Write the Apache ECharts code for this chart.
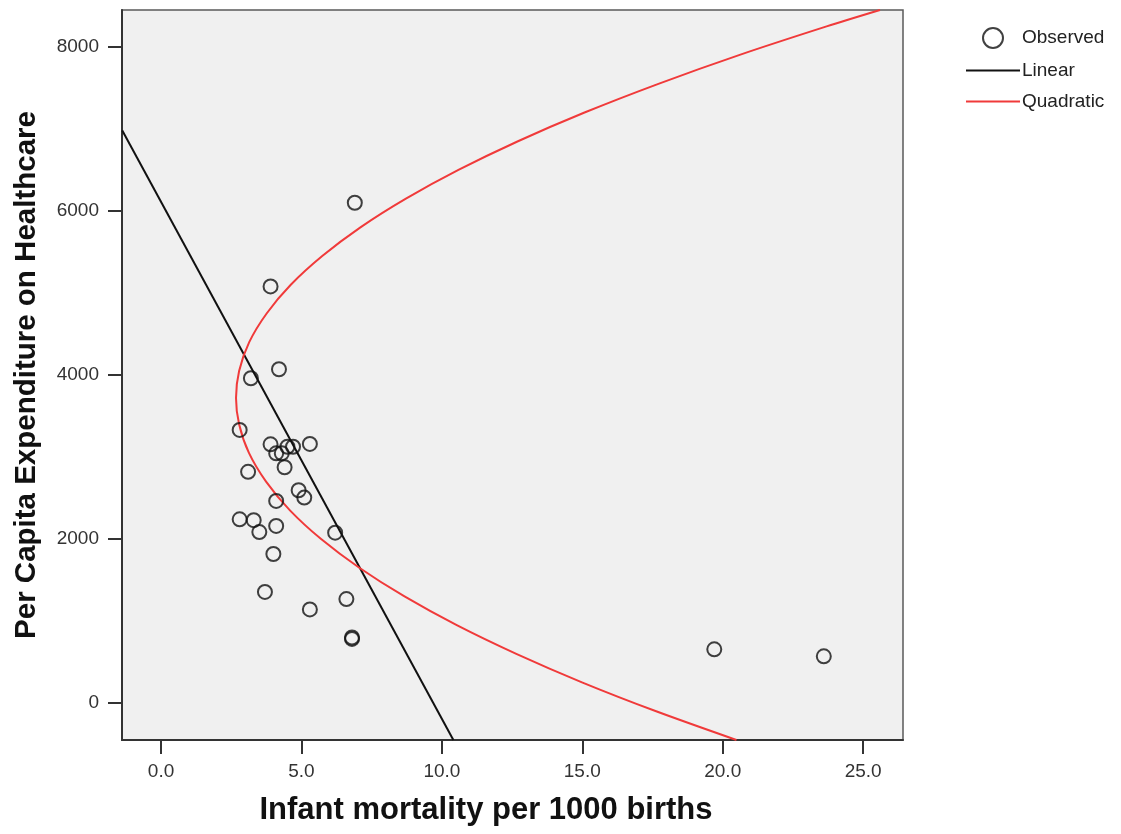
<!DOCTYPE html>
<html>
<head>
<meta charset="utf-8">
<script src="https://cdn.jsdelivr.net/npm/echarts@6/dist/echarts.min.js"></script>
<style>
  html, body { margin: 0; padding: 0; background: #ffffff; }
  #chart { width: 1121px; height: 834px; }
</style>
</head>
<body>
<div id="chart"></div>
<script>
// Observed cases: infant mortality (per 1000 births) vs per capita healthcare spending
const mortality = [
  3.2, 4.2, 3.9, 6.9, 2.8, 3.9, 4.1, 4.3, 4.5, 4.7,
  5.3, 4.4, 3.1, 4.9, 5.1, 4.1, 2.8, 3.3, 3.5, 4.1,
  6.2, 4.0, 3.7, 6.6, 5.3, 6.8, 6.8, 19.7, 23.6
];
const expenditure = [
  3960, 4070, 5080, 6100, 3330, 3155, 3045, 3045, 3125, 3125,
  3160, 2875, 2820, 2595, 2505, 2465, 2240, 2230, 2085, 2160,
  2078, 1818, 1355, 1268, 1142, 800, 782, 656, 570
];

// Linear fit line, end points
const linearMortality = [-1.38, 10.41];
const linearExpenditure = [6980, -450];

// Quadratic fit curve, traced along its length
const quadMortality = [
  20.49, 17.63, 15.01, 12.65, 10.53, 8.67, 7.06, 5.70, 4.59, 3.74, 3.13, 2.78, 2.67,
  2.78, 3.14, 3.76, 4.62, 5.74, 7.10, 8.72, 10.59, 12.71, 15.08, 17.71, 20.58, 23.70, 25.60
];
const quadExpenditure = [
  -450, -100, 250, 600, 950, 1300, 1650, 2000, 2350, 2700, 3050, 3400, 3720,
  4050, 4400, 4750, 5100, 5450, 5800, 6150, 6500, 6850, 7200, 7550, 7900, 8250, 8450
];

// Tick positions
const xTicks = [0, 5, 10, 15, 20, 25];
const yTicks = [0, 2000, 4000, 6000, 8000];

const zip = (xs, ys) => xs.map((x, i) => [x, ys[i]]);

const FONT = '"Liberation Sans", Arial, sans-serif';
const INK = '#111111';
const RED = '#f03a3a';
const LINE_ICON = 'path://M0,0 L54,0 L54,2 L0,2 Z';

const chart = echarts.init(document.getElementById('chart'), null, { renderer: 'canvas' });

chart.setOption({
  animation: false,
  backgroundColor: '#ffffff',
  textStyle: { fontFamily: FONT },
  grid: {
    left: 122, right: 218, top: 10, bottom: 94,
    show: true,
    backgroundColor: '#f0f0f0',
    borderColor: '#5a5a5a',
    borderWidth: 1.5
  },
  legend: {
    orient: 'vertical',
    left: 966,
    top: 27,
    padding: 0,
    itemWidth: 54,
    itemHeight: 20,
    itemGap: 12,
    textStyle: { fontFamily: FONT, fontSize: 19, color: '#222222', padding: [0, 0, 0, -3] },
    data: [
      { name: 'Observed', icon: 'circle',
        itemStyle: { color: 'rgba(0,0,0,0)', borderColor: INK, borderWidth: 2 } },
      { name: 'Linear', icon: LINE_ICON, itemStyle: { color: INK } },
      { name: 'Quadratic', icon: LINE_ICON, itemStyle: { color: RED } }
    ]
  },
  xAxis: {
    type: 'value',
    min: -1.39,
    max: 26.42,
    name: 'Infant mortality per 1000 births',
    nameLocation: 'middle',
    nameGap: 55,
    nameTextStyle: {
      fontFamily: FONT, fontSize: 31, fontWeight: 'bold', color: '#111111',
      padding: [0, 53, 0, 0]
    },
    axisLine: { show: true, onZero: false, lineStyle: { color: '#333333', width: 2 } },
    axisTick: {
      show: true, inside: false, length: 14, customValues: xTicks,
      lineStyle: { color: '#333333', width: 2 }
    },
    axisLabel: {
      show: true, margin: 22, customValues: xTicks,
      fontFamily: FONT, fontSize: 19, color: '#333333',
      formatter: v => v.toFixed(1)
    },
    splitLine: { show: false }
  },
  yAxis: {
    type: 'value',
    min: -450,
    max: 8450,
    name: 'Per Capita Expenditure on Healthcare',
    nameLocation: 'middle',
    nameGap: 80,
    nameTextStyle: { fontFamily: FONT, fontSize: 29.5, fontWeight: 'bold', color: '#111111' },
    axisLine: { show: true, onZero: false, lineStyle: { color: '#333333', width: 2 } },
    axisTick: {
      show: true, inside: false, length: 14, customValues: yTicks,
      lineStyle: { color: '#333333', width: 2 }
    },
    axisLabel: {
      show: true, margin: 23, customValues: yTicks,
      fontFamily: FONT, fontSize: 19, color: '#333333',
      formatter: v => String(v)
    },
    splitLine: { show: false }
  },
  series: [
    {
      name: 'Observed',
      type: 'scatter',
      symbol: 'circle',
      symbolSize: 14,
      itemStyle: { color: 'rgba(0,0,0,0)', borderColor: INK, borderWidth: 2 },
      data: zip(mortality, expenditure),
      z: 5
    },
    {
      name: 'Linear',
      type: 'line',
      showSymbol: false,
      symbol: 'none',
      lineStyle: { color: INK, width: 2 },
      itemStyle: { color: INK },
      data: zip(linearMortality, linearExpenditure),
      z: 3
    },
    {
      name: 'Quadratic',
      type: 'line',
      showSymbol: false,
      symbol: 'none',
      smooth: 0.3,
      lineStyle: { color: RED, width: 2 },
      itemStyle: { color: RED },
      data: zip(quadMortality, quadExpenditure),
      z: 4
    }
  ]
});
</script>
</body>
</html>
